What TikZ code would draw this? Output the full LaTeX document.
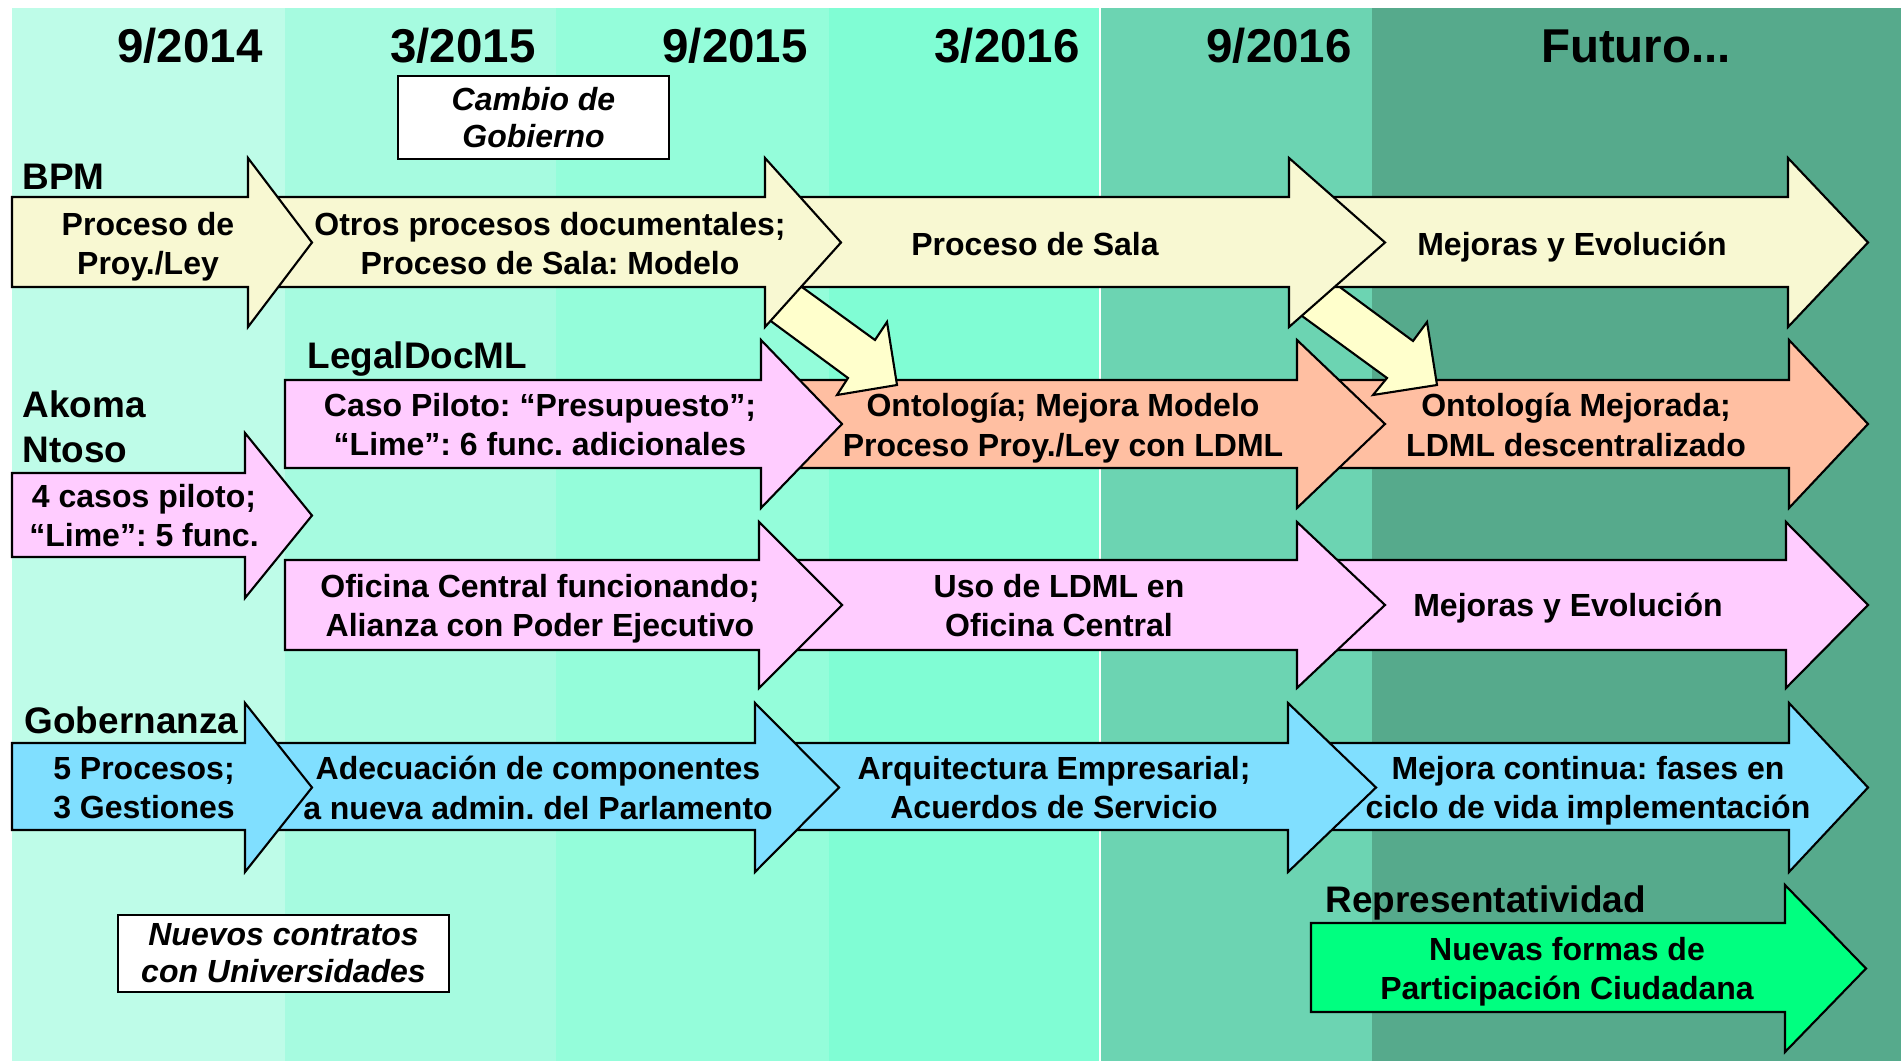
\documentclass[tikz,border=0pt]{standalone}
\usepackage{fontspec}
\setmainfont{Liberation Sans}
\usepackage{tikz}
\usetikzlibrary{positioning}
\usepackage{xcolor}
\definecolor{palemint}{RGB}{190,252,232}
\definecolor{lightmint}{RGB}{166,251,224}
\definecolor{softmint}{RGB}{148,253,218}
\definecolor{aquamint}{RGB}{128,253,212}
\definecolor{mediumsea}{RGB}{108,212,178}
\definecolor{deepsea}{RGB}{86,170,140}
\definecolor{paleyellow}{RGB}{248,248,210}
\definecolor{lightyellow}{RGB}{255,255,204}
\definecolor{softpink}{RGB}{255,204,255}
\definecolor{softsalmon}{RGB}{255,191,162}
\definecolor{skyblue}{RGB}{128,223,255}
\definecolor{springgreen}{RGB}{0,255,128}
\frenchspacing

% block arrow: fill, x start, x head base, x tip, body top, body bottom, head top, head bottom
\newcommand{\flecha}[8]{%
  \filldraw[draw=black, line width=0.6pt, fill=#1]
    (#2,#5) -- (#3,#5) -- (#3,#7) -- (#4,{(#7+#8)/2}) -- (#3,#8) -- (#3,#6) -- (#2,#6) -- cycle;}

\begin{document}
\begin{tikzpicture}[x=0.01cm,y=-0.01cm,
    txt/.style={font=\bfseries\fontsize{9.1}{11.1}\selectfont, align=center, inner sep=0pt,
        execute at begin node=\strut, execute at end node=\strut, yshift=-0.066cm},
    uno/.style={txt, yshift=0.03cm},
    fecha/.style={font=\bfseries\fontsize{13.5}{16}\selectfont, inner sep=0pt, anchor=base},
    fila/.style={font=\bfseries\fontsize{10.5}{12.8}\selectfont, inner sep=0pt, anchor=base west},
    nota/.style={draw=black, fill=white, line width=0.5pt, inner sep=0pt,
        font=\bfseries\itshape\fontsize{9.1}{10.5}\selectfont, align=center}]
    \useasboundingbox (0,0) rectangle (1901,1061);
    \fill[white] (0,0) rectangle (1901,1061);

    % Time bands
    \fill[palemint] (12,8) rectangle (285,1061);
    \fill[lightmint] (285,8) rectangle (556,1061);
    \fill[softmint] (556,8) rectangle (829,1061);
    \fill[aquamint] (829,8) rectangle (1100,1061);
    \fill[mediumsea] (1100,8) rectangle (1372,1061);
    \fill[deepsea] (1372,8) rectangle (1901,1061);
    \draw[white, line width=0.4pt] (1100,8) -- (1100,1061);

    % LegalDocML row
    \flecha{softsalmon}{1300}{1789}{1868}{380}{468}{340}{508}
    \flecha{softsalmon}{765}{1297}{1385}{380}{468}{340}{508}
    \flecha{softpink}{285}{761}{842}{380}{468}{340}{508}

    % Links BPM -> LegalDocML
    \filldraw[draw=black, line width=0.6pt, fill=lightyellow]
        (768,319) -- (795,282) -- (875,340) -- (887,322) -- (897,385) -- (837,395) -- (848,378) -- cycle;
    \filldraw[draw=black, line width=0.6pt, fill=lightyellow]
        (1291,308) -- (1318,271) -- (1413,341) -- (1427,322) -- (1437,385) -- (1373,395) -- (1387,378) -- cycle;

    % BPM row
    \flecha{paleyellow}{1295}{1788}{1868}{197}{287}{158}{327}
    \flecha{paleyellow}{770}{1289}{1385}{197}{287}{158}{327}
    \flecha{paleyellow}{250}{765}{841}{197}{287}{158}{327}
    \flecha{paleyellow}{12}{248}{312}{197}{287}{158}{327}

    % Akoma Ntoso
    \flecha{softpink}{12}{245}{312}{473}{557}{433}{598}

    % Oficina Central row
    \flecha{softpink}{1300}{1786}{1868}{560}{650}{522}{688}
    \flecha{softpink}{765}{1297}{1385}{560}{650}{522}{688}
    \flecha{softpink}{285}{759}{842}{560}{650}{522}{688}

    % Gobernanza row
    \flecha{skyblue}{1293}{1789}{1868}{743}{830}{703}{872}
    \flecha{skyblue}{760}{1288}{1376}{743}{830}{703}{872}
    \flecha{skyblue}{250}{755}{839}{743}{830}{703}{872}
    \flecha{skyblue}{12}{245}{312}{743}{830}{703}{872}

    % Representatividad
    \flecha{springgreen}{1311}{1785}{1866}{923}{1012}{885}{1052}

    % Dates
    \node[fecha] (f1) at (190,63) {9/2014};
    \node[fecha] (f2) at (463,63) {3/2015};
    \node[fecha] (f3) at (735,63) {9/2015};
    \node[fecha] (f4) at (1007,63) {3/2016};
    \node[fecha] (f5) at (1279,63) {9/2016};
    \node[fecha] (f6) at (1636,63) {Futuro...};

    % Row titles
    \node[fila] (lblbpm) at (22,190) {BPM};
    \node[fila] (lblldm) at (307,368) {LegalDocML};
    \node[fila, anchor=west, align=left] (lblakoma) at (22,427) {Akoma\\Ntoso};
    \node[fila] (lblgob) at (24,733) {Gobernanza};
    \node[fila] (lblrep) at (1325,912) {Representatividad};

    % Arrow texts
    \node[txt] (pley) at (148,243) {Proceso de\\Proy./Ley};
    \node[txt] (otros) at (550,243) {Otros procesos documentales;\\Proceso de Sala: Modelo};
    \node[uno] (sala) at (1035,244) {Proceso de Sala};
    \node[uno] (mejbpm) at (1572,244) {Mejoras y Evolución};

    \node[txt] (piloto) at (540,424) {Caso Piloto: “Presupuesto”;\\“Lime”: 6 func. adicionales};
    \node[txt] (ontol) at (1063,424) {Ontología; Mejora Modelo\\Proceso Proy./Ley con LDML};
    \node[txt] (ontmej) at (1576,424) {Ontología Mejorada;\\LDML descentralizado};

    \node[txt] (akoma) at (144,515) {4 casos piloto;\\“Lime”: 5 func.};

    \node[txt] (oficina) at (540,605) {Oficina Central funcionando;\\Alianza con Poder Ejecutivo};
    \node[txt] (usoldml) at (1059,605) {Uso de LDML en\\Oficina Central};
    \node[uno] (mejldm) at (1568,605) {Mejoras y Evolución};

    \node[txt] (procesos) at (144,787) {5 Procesos;\\3 Gestiones};
    \node[txt] (adecua) at (538,787) {Adecuación de componentes\\a nueva admin. del Parlamento};
    \node[txt] (arquit) at (1054,787) {Arquitectura Empresarial;\\Acuerdos de Servicio};
    \node[txt] (mejcont) at (1588,787) {Mejora continua: fases en\\ciclo de vida implementación};

    \node[txt] (nuevas) at (1567,968) {Nuevas formas de\\Participación Ciudadana};

    % Notes
    \node[nota, minimum width=2.71cm, minimum height=0.83cm] (cambio) at (533.5,117.5) {Cambio de\\Gobierno};
    \node[nota, minimum width=3.31cm, minimum height=0.77cm] (contratos) at (283.5,953.5) {Nuevos contratos\\con Universidades};
\end{tikzpicture}
\end{document}
